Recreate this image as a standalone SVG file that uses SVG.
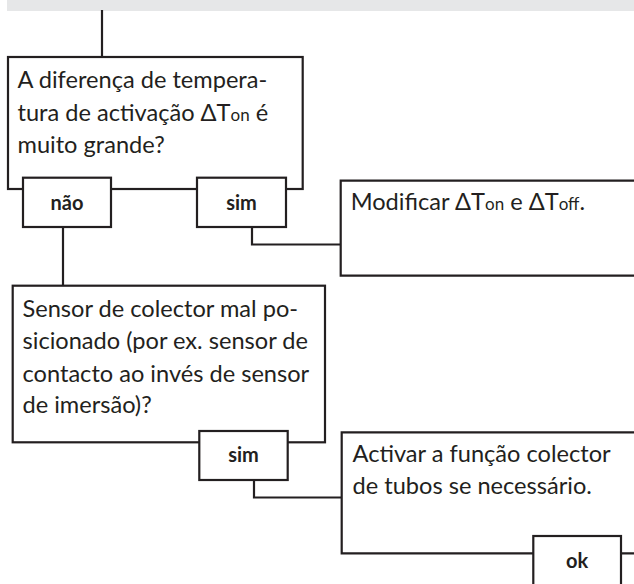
<svg xmlns="http://www.w3.org/2000/svg" width="634" height="584" viewBox="0 0 634 584">
<style>
.box{fill:#fff;stroke:#231f20;stroke-width:2.2}
.ln{fill:none;stroke:#231f20;stroke-width:2.2}
.t{font-family:"Lato","Liberation Sans",sans-serif;font-size:23.6px;fill:#231f20}
.s{font-size:17px}
.b{font-family:"Lato","Liberation Sans",sans-serif;font-size:20px;font-weight:bold;fill:#231f20;text-anchor:middle}
</style>
<rect x="7" y="0" width="627" height="11" fill="#e6e7e8"/>
<g id="connectors">
<line class="ln" x1="102" y1="10" x2="102" y2="57"/>
<line class="ln" x1="63" y1="227" x2="63" y2="286"/>
<polyline class="ln" points="252,227 252,244.5 341,244.5"/>
<polyline class="ln" points="254,480 254,497.5 342,497.5"/>
</g>
<g id="n1">
<rect class="box" x="8" y="57" width="294.7" height="132"/>
<text class="t" x="17.5" y="88">A diferença de tempera-</text>
<text class="t" x="17.5" y="121">tura de activação ΔT<tspan class="s">on</tspan> é</text>
<text class="t" x="17.5" y="153">muito grande?</text>
</g>
<g id="nao">
<rect class="box" x="23" y="177.7" width="88" height="49.3"/>
<text class="b" x="67" y="210">não</text>
</g>
<g id="sim1">
<rect class="box" x="197" y="177.7" width="89" height="49.3"/>
<text class="b" x="241.5" y="210">sim</text>
</g>
<g id="n2">
<path class="box" d="M640,180.7 H340.7 V275.7 H640"/>
<text class="t" x="350.7" y="210">Modificar ΔT<tspan class="s">on</tspan> e ΔT<tspan class="s">off</tspan>.</text>
</g>
<g id="n3">
<rect class="box" x="12.7" y="285.7" width="312.3" height="156.6"/>
<text class="t" x="22.5" y="316.5">Sensor de colector mal po-</text>
<text class="t" x="22.5" y="349">sicionado (por ex. sensor de</text>
<text class="t" x="22.5" y="381.5">contacto ao invés de sensor</text>
<text class="t" x="22.5" y="413">de imersão)?</text>
</g>
<g id="sim2">
<rect class="box" x="199.3" y="431" width="88.4" height="49"/>
<text class="b" x="243.5" y="462">sim</text>
</g>
<g id="n4">
<path class="box" d="M640,432.3 H341.7 V553.3 H640"/>
<text class="t" x="352.5" y="461.5">Activar a função colector</text>
<text class="t" x="352.5" y="493.5">de tubos se necessário.</text>
</g>
<g id="ok">
<rect class="box" x="533.3" y="536" width="87.7" height="60"/>
<text class="b" x="577" y="568">ok</text>
</g>
</svg>
